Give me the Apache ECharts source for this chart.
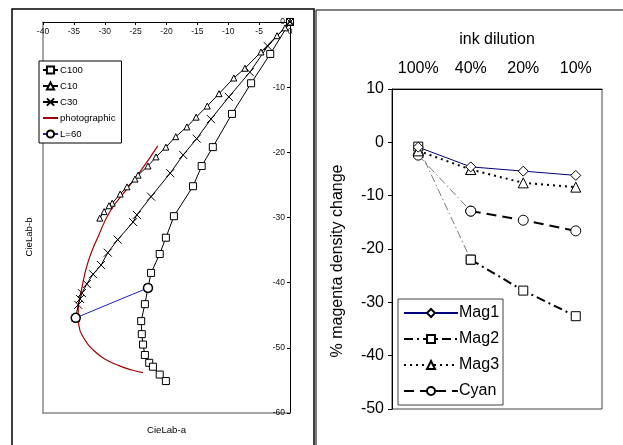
<!DOCTYPE html>
<html>
<head>
<meta charset="utf-8">
<script src="https://cdn.jsdelivr.net/npm/echarts@6/dist/echarts.min.js"></script>
<style>
  html, body { margin: 0; padding: 0; background: #fff; }
  #chart { width: 623px; height: 445px; }
</style>
</head>
<body>
<div id="chart"></div>
<script>
// left panel: CieLab a / b points
var c100 = [[0, 0], [-3.2, -4.9], [-6.3, -9.4], [-9.4, -14.1], [-12.5, -19.2], [-14.3, -22.1], [-15.7, -25.2],
  [-18.8, -29.8], [-20.1, -33.1], [-21.1, -35.6], [-22.5, -38.5], [-23.0, -40.8], [-23.5, -43.3], [-24.1, -45.9],
  [-24.0, -47.9], [-23.8, -49.5], [-23.5, -51.1], [-22.8, -52.3], [-22.2, -52.9], [-21.1, -54.1], [-20.1, -55.1]];
var c10 = [[0, 0], [-0.8, -0.9], [-2.1, -2.1], [-4.7, -4.6], [-7.3, -7.1], [-9.1, -8.6], [-11.5, -11.0], [-13.4, -12.9],
  [-15.2, -14.6], [-16.7, -16.1], [-18.5, -17.6], [-20.1, -19.2], [-21.7, -20.7], [-23.0, -22.1], [-24.6, -23.5],
  [-25.1, -24.1], [-26.4, -25.3], [-27.5, -26.4], [-28.8, -27.8], [-29.3, -28.2], [-30.1, -29.1], [-30.8, -30.1]];
var c30 = [[0, 0], [-3.6, -3.7], [-6.5, -7.7], [-9.9, -11.5], [-12.8, -14.9], [-15.1, -17.9], [-17.3, -20.4],
  [-19.4, -23.2], [-22.5, -26.8], [-24.8, -29.6], [-25.4, -30.7], [-27.9, -33.4], [-29.5, -35.4], [-30.6, -37.3],
  [-31.9, -38.7], [-32.9, -40.2], [-33.7, -41.6], [-34.0, -42.5], [-34.3, -43.4], [-34.7, -45.4]];
var photographic = [[-21.4, -19.0], [-24.3, -23.0], [-26.4, -25.6], [-29.1, -29.0], [-31.1, -33.0], [-32.7, -36.8],
  [-33.7, -40.8], [-34.3, -44.2], [-34.2, -46.5], [-33.2, -48.8], [-31.9, -50.3], [-30.0, -51.7], [-27.5, -52.8],
  [-25.6, -53.4], [-23.8, -53.8]];
var l60 = [[-34.7, -45.4], [-23.0, -40.8]];

// right panel: density change per ink dilution
var dilution = ['100%', '40%', '20%', '10%'];
var mag1 = [-0.9, -4.6, -5.4, -6.2];
var mag2 = [-0.8, -22.0, -27.8, -32.6];
var mag3 = [-1.6, -5.1, -7.6, -8.4];
var cyan = [-2.4, -12.9, -14.6, -16.6];

var FONT = 'Liberation Sans, Arial, sans-serif';
var xMark = 'path://M0,0L10,10M10,0L0,10';

function leftSeries(name, data, symbol, size, extra) {
  var s = {
    name: name,
    type: 'line',
    xAxisIndex: 0,
    yAxisIndex: 0,
    data: data,
    symbol: symbol,
    symbolSize: size,
    showAllSymbol: true,
    lineStyle: { color: '#000', width: 1 },
    itemStyle: { color: '#fff', borderColor: '#000', borderWidth: 1 },
    emphasis: { disabled: true }
  };
  return Object.assign(s, extra || {});
}

function rightSeries(name, data, symbol, size, lineColor, lineType, lineWidth) {
  return {
    name: name,
    type: 'line',
    xAxisIndex: 2,
    yAxisIndex: 2,
    data: data,
    symbol: symbol,
    symbolSize: size,
    lineStyle: { color: lineColor, width: lineWidth, type: lineType },
    itemStyle: { color: '#fff', borderColor: '#000', borderWidth: 1 },
    emphasis: { disabled: true }
  };
}

// first step (100% -> 40%) is drawn thinner in the original
function head(values) {
  return values.map(function (v, i) { return i < 2 ? v : '-'; });
}
function tail(values) {
  return values.map(function (v, i) { return i < 1 ? '-' : v; });
}

var option = {
  animation: false,
  textStyle: { fontFamily: FONT },
  grid: [
    { left: 43, top: 22, width: 247, height: 391 },
    { left: 392, top: 89, width: 210, height: 320, show: true, borderColor: '#444', borderWidth: 1 }
  ],
  legend: [
    {
      data: ['C100', 'C10', 'C30', { name: 'photographic', itemStyle: { opacity: 0 } }, 'L=60'],
      orient: 'vertical',
      left: 39, top: 61,
      itemWidth: 15, itemHeight: 9, itemGap: 6,
      padding: [4, 6, 4, 3],
      borderColor: '#000', borderWidth: 1, backgroundColor: '#fff',
      textStyle: { fontSize: 9.6, color: '#000', padding: [0, 0, 0, -3] }
    },
    {
      data: ['Mag1', 'Mag2', 'Mag3', 'Cyan'],
      orient: 'vertical',
      left: 398, top: 299,
      itemWidth: 54, itemHeight: 10, itemGap: 10,
      padding: [6, 4, 6, 5],
      borderColor: '#444', borderWidth: 1, backgroundColor: '#fff',
      textStyle: { fontSize: 16, color: '#000', padding: [0, 0, 0, -4] }
    }
  ],
  xAxis: [
    {
      type: 'value', gridIndex: 0, position: 'top', min: -40, max: 0, interval: 5,
      axisLine: { onZero: false, lineStyle: { color: '#000', width: 1 } },
      axisTick: { inside: true, length: 3, lineStyle: { color: '#000' } },
      axisLabel: { inside: true, fontSize: 8.5, color: '#111', margin: 5 },
      splitLine: { show: false }
    },
    {
      type: 'value', gridIndex: 0, position: 'bottom', min: -40, max: 0,
      name: 'CieLab-a', nameLocation: 'middle', nameGap: 12,
      nameTextStyle: { fontSize: 9.6, color: '#000' },
      axisLine: { onZero: false, lineStyle: { color: '#888', width: 1.5 } },
      axisTick: { show: false }, axisLabel: { show: false }, splitLine: { show: false }
    },
    {
      type: 'category', gridIndex: 1, position: 'top', data: dilution,
      name: 'ink dilution', nameLocation: 'middle', nameGap: 41,
      nameTextStyle: { fontSize: 16, color: '#000' },
      axisLine: { onZero: false, lineStyle: { color: '#000', width: 1 } },
      axisTick: { length: 4, lineStyle: { color: '#000' } },
      axisLabel: { interval: 0, fontSize: 16, color: '#000', margin: 12 },
      splitLine: { show: false }
    }
  ],
  yAxis: [
    {
      type: 'value', gridIndex: 0, position: 'right', min: -60, max: 0, interval: 10,
      axisLine: { onZero: false, lineStyle: { color: '#000', width: 1 } },
      axisTick: { inside: true, length: 3, lineStyle: { color: '#000' } },
      axisLabel: { inside: true, fontSize: 8.5, color: '#111', margin: 5 },
      splitLine: { show: false }
    },
    {
      type: 'value', gridIndex: 0, position: 'left', min: -60, max: 0,
      axisLine: { onZero: false, lineStyle: { color: '#888', width: 1.5 } },
      axisTick: { show: false }, axisLabel: { show: false }, splitLine: { show: false }
    },
    {
      type: 'value', gridIndex: 1, position: 'left', min: -50, max: 10, interval: 10,
      axisLine: { show: true, onZero: false, lineStyle: { color: '#000', width: 1 } },
      axisTick: { show: true, length: 4, lineStyle: { color: '#000' } },
      axisLabel: { fontSize: 16, color: '#000', margin: 8 },
      splitLine: { show: false }
    }
  ],
  graphic: [
    { type: 'rect', shape: { x: 12, y: 9, width: 302, height: 460 }, style: { fill: 'none', stroke: '#000', lineWidth: 1.5 } },
    { type: 'rect', shape: { x: 316, y: 10, width: 320, height: 460 }, style: { fill: 'none', stroke: '#000', lineWidth: 1 } },
    { type: 'text', x: 29, y: 237, rotation: Math.PI / 2, style: { text: 'CieLab-b', font: '9.6px ' + FONT, fill: '#000', align: 'center', verticalAlign: 'middle' } },
    { type: 'text', x: 338, y: 261, rotation: Math.PI / 2, style: { text: '% magenta density change', font: '16px ' + FONT, fill: '#000', align: 'center', verticalAlign: 'middle' } }
  ],
  series: [
    leftSeries('photographic', photographic, 'none', 0, { smooth: true, lineStyle: { color: '#a00000', width: 1.2 }, itemStyle: { color: '#a00000' } }),
    leftSeries('C100', c100, 'rect', 7),
    leftSeries('C10', c10, 'triangle', 6),
    leftSeries('C30', c30, xMark, 8, { itemStyle: { color: 'rgba(0,0,0,0)', borderColor: '#000', borderWidth: 1 } }),
    leftSeries('L=60', l60, 'circle', 9, { lineStyle: { color: '#1c1cb8', width: 1 }, itemStyle: { color: '#fff', borderColor: '#000', borderWidth: 1.5 } }),
    rightSeries('mag2-head', head(mag2), 'rect', 9, '#555', [8, 3, 1.5, 3], 0.8),
    rightSeries('cyan-head', head(cyan), 'circle', 10, '#555', [8, 3, 1.5, 3], 0.8),
    rightSeries('mag3-head', head(mag3), 'triangle', 10, '#000', [2, 4], 2),
    rightSeries('Mag2', tail(mag2), 'rect', 9, '#000', [9, 4, 2, 4], 2),
    rightSeries('Mag3', tail(mag3), 'triangle', 10, '#000', [2, 4], 2),
    rightSeries('Cyan', tail(cyan), 'circle', 10, '#000', [10, 6], 2),
    rightSeries('Mag1', mag1, 'diamond', 10, '#000080', 'solid', 1)
  ]
};

var myChart = echarts.init(document.getElementById('chart'));
myChart.setOption(option);
</script>
</body>
</html>
